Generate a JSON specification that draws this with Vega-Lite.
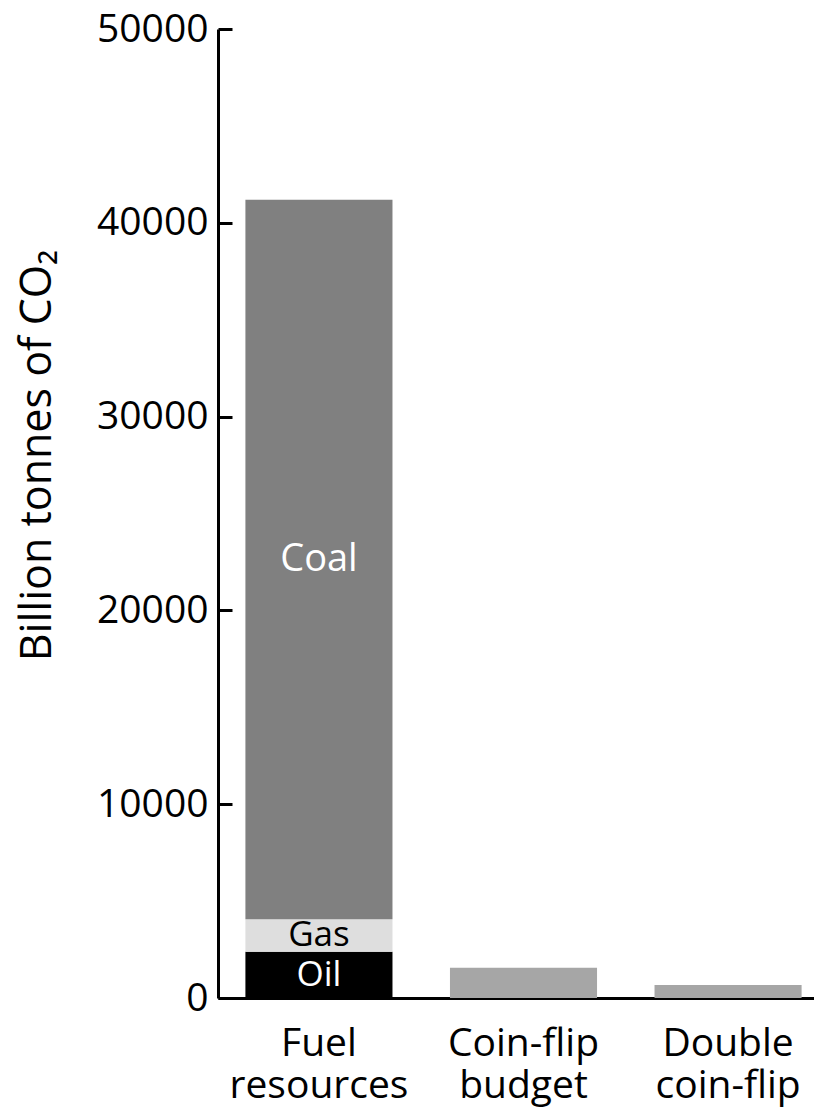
{
  "$schema": "https://vega.github.io/schema/vega-lite/v6.json",
  "autosize": {"type": "none"},
  "padding": {"left": 218, "top": 29, "right": 0, "bottom": 112},
  "width": 596,
  "height": 969,
  "background": "white",
  "config": {
    "font": "Open Sans",
    "view": {"stroke": null},
    "axis": {"grid": false}
  },
  "data": {
    "values": [
      {"category": "Fuel resources", "segment": "Oil", "layer": 1, "value": 2390},
      {"category": "Fuel resources", "segment": "Gas", "layer": 2, "value": 1670},
      {"category": "Fuel resources", "segment": "Coal", "layer": 3, "value": 37130},
      {"category": "Coin-flip budget", "segment": "Budget", "layer": 1, "value": 1560},
      {"category": "Double coin-flip", "segment": "Budget", "layer": 1, "value": 670}
    ]
  },
  "layer": [
    {
      "mark": {"type": "bar"},
      "encoding": {
        "x": {
          "field": "category",
          "type": "nominal",
          "sort": ["Fuel resources", "Coin-flip budget", "Double coin-flip"],
          "scale": {"range": [0, 611], "paddingInner": 0.281, "paddingOuter": 0.134},
          "axis": {
            "title": null,
            "ticks": false,
            "domain": true,
            "domainColor": "black",
            "domainWidth": 3,
            "labelAngle": 0,
            "labelFontSize": 39,
            "labelLineHeight": 42,
            "labelColor": "black",
            "labelPadding": 26,
            "labelExpr": "split(datum.label, ' ')"
          }
        },
        "y": {
          "field": "value",
          "type": "quantitative",
          "stack": "zero",
          "scale": {"domain": [0, 50000], "nice": false},
          "axis": {
            "values": [0, 10000, 20000, 30000, 40000, 50000],
            "format": "d",
            "domainColor": "black",
            "domainWidth": 3,
            "tickColor": "black",
            "tickWidth": 3,
            "tickSize": -14,
            "labelFontSize": 39,
            "labelColor": "black",
            "labelPadding": 24,
            "title": "Billion tonnes of CO₂",
            "titleFontSize": 43,
            "titleFontWeight": "normal",
            "titleColor": "black",
            "titleAngle": -90,
            "titleAlign": "center",
            "titleBaseline": "middle",
            "titleX": -181,
            "titleY": 426
          }
        },
        "color": {
          "field": "segment",
          "type": "nominal",
          "scale": {"domain": ["Oil", "Gas", "Coal", "Budget"], "range": ["#000000", "#dedede", "#808080", "#a6a6a6"]},
          "legend": null
        },
        "order": {"field": "layer", "type": "quantitative", "sort": "ascending"}
      }
    },
    {
      "transform": [
        {"filter": "datum.category === 'Fuel resources'"},
        {"stack": "value", "groupby": ["category"], "sort": [{"field": "layer", "order": "ascending"}], "as": ["lo", "hi"]},
        {"fold": ["lo", "hi"], "as": ["edge", "pos"]},
        {"aggregate": [{"op": "mean", "field": "pos", "as": "mid"}], "groupby": ["category", "segment"]}
      ],
      "mark": {"type": "text", "baseline": "middle", "align": "center"},
      "encoding": {
        "x": {"field": "category", "type": "nominal", "sort": ["Fuel resources", "Coin-flip budget", "Double coin-flip"]},
        "y": {"field": "mid", "type": "quantitative"},
        "text": {"field": "segment", "type": "nominal"},
        "size": {
          "condition": {"test": "datum.segment === 'Coal'", "value": 38},
          "value": 35
        },
        "color": {
          "condition": {"test": "datum.segment === 'Gas'", "value": "black"},
          "value": "white"
        }
      }
    }
  ]
}
